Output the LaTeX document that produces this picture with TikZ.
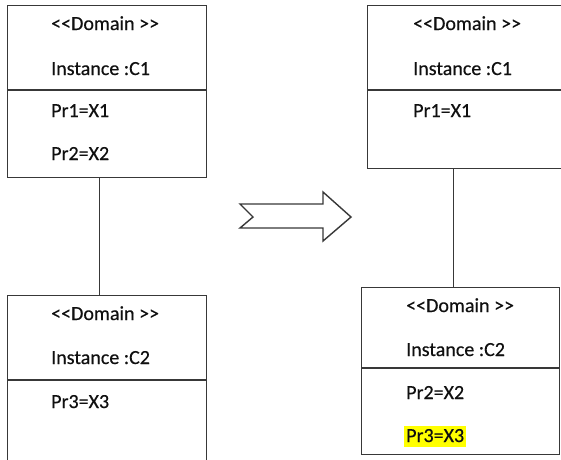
\documentclass[tikz,border=0pt]{standalone}
\usepackage{fontspec}
% plain family: no TeX ligature mapping, so "<<" stays as two characters
\newfontfamily\umlfont{Carlito}[FakeBold=0.4]
\definecolor{edge}{HTML}{383838}
\definecolor{ink}{HTML}{101010}
\definecolor{marker}{HTML}{FFFF00}
\begin{document}
\begin{tikzpicture}[x=1pt,y=1pt,
  classbox/.style={draw=edge, line width=1.4pt, inner sep=0pt, anchor=north west},
  txt/.style={anchor=base west, inner sep=0pt, text=ink,
    font=\umlfont\fontsize{20}{24}\selectfont},
  hilite/.style={txt, fill=marker, inner xsep=2pt, inner ysep=0pt,
    text height=16.5pt, text depth=4.5pt},
  connector/.style={draw=edge, line width=1.4pt},
]
\clip (0,0) rectangle (561,-459);
\fill[white] (0,0) rectangle (561,-459);

% object boxes (some run past the page edge)
\node[classbox, minimum width=199pt, minimum height=172pt] (lt) at (7,-5) {};
\node[classbox, minimum width=199pt, minimum height=180pt] (lb) at (7,-295) {};
\node[classbox, minimum width=220pt, minimum height=163pt] (rt) at (367,-5) {};
\node[classbox, minimum width=198pt, minimum height=167pt] (rb) at (361,-287) {};

% compartment dividers
\draw[connector] ([yshift=-85pt]lt.north west) -- ([yshift=-85pt]lt.north east);
\draw[connector] ([yshift=-85pt]lb.north west) -- ([yshift=-85pt]lb.north east);
\draw[connector] ([yshift=-85pt]rt.north west) -- ([yshift=-85pt]rt.north east);
\draw[connector] ([yshift=-81pt]rb.north west) -- ([yshift=-81pt]rb.north east);

% links between the instances
\coordinate (la) at ([xshift=-7.5pt]lt.south);
\coordinate (ra) at ([xshift=-24pt]rt.south);
\draw[connector] (la) -- (la |- lb.north);
\draw[connector] (ra) -- (ra |- rb.north);

% transformation arrow
\draw[edge, line width=1.4pt, fill=white, line join=miter]
  (240,-204) -- (323,-204) -- (323,-192) -- (351,-217) -- (323,-241)
  -- (323,-228) -- (240,-228) -- (253,-217) -- cycle;

% left: before
\node[txt] (lt1) at (51,-30)  {<<Domain >>};
\node[txt] (lt2) at (51,-75)  {Instance :C1};
\node[txt] (lt3) at (51,-117) {Pr1=X1};
\node[txt] (lt4) at (51,-160) {Pr2=X2};

\node[txt] (lb1) at (51,-320) {<<Domain >>};
\node[txt] (lb2) at (51,-364) {Instance :C2};
\node[txt] (lb3) at (51,-408) {Pr3=X3};

% right: after
\node[txt] (rt1) at (413,-30)  {<<Domain >>};
\node[txt] (rt2) at (413,-75)  {Instance :C1};
\node[txt] (rt3) at (413,-117) {Pr1=X1};

\node[txt] (rb1) at (406,-312) {<<Domain >>};
\node[txt] (rb2) at (406,-356) {Instance :C2};
\node[txt] (rb3) at (406,-399) {Pr2=X2};
\node[hilite] (rb4) at (404,-442) {Pr3=X3};
\end{tikzpicture}
\end{document}
